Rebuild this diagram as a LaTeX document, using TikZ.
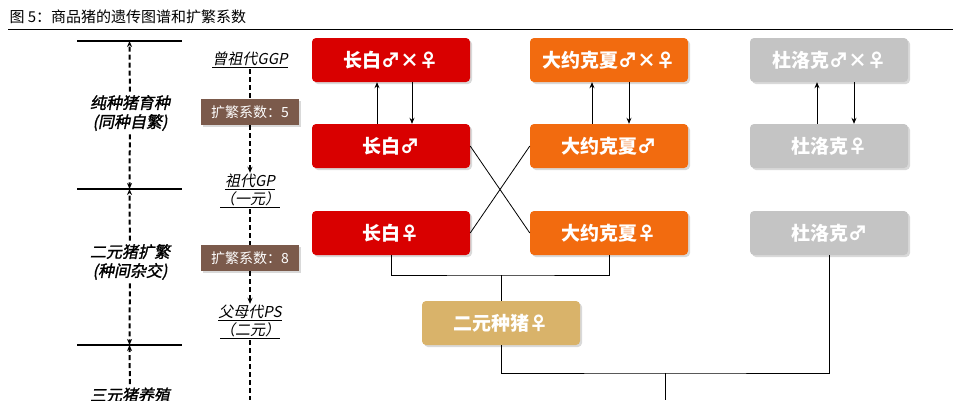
\documentclass[tikz,border=0pt]{standalone}
\usepackage{fontspec}
\setmainfont{Noto Sans CJK SC}
\newfontfamily\slantcjk[FakeSlant=0.2]{Noto Sans CJK SC}
\newfontfamily\slantboldcjk[FakeSlant=0.2,FakeBold=1.5]{Noto Sans CJK SC}
\usetikzlibrary{arrows.meta,shadows}
\definecolor{lbred}{HTML}{D90000}
\definecolor{yworange}{HTML}{F26B0F}
\definecolor{durgrey}{HTML}{C4C4C4}
\definecolor{twotan}{HTML}{D9B36A}
\definecolor{coefbrown}{HTML}{7B5A4B}
\tikzset{
	pig/.style={rounded corners=4pt,minimum width=158pt,minimum height=44pt,text=white,font=\bfseries\fontsize{19}{19}\selectfont,drop shadow={shadow xshift=2pt,shadow yshift=-2pt,opacity=0.3}},
	coef/.style={fill=coefbrown,text=white,minimum width=98pt,minimum height=26pt,font=\fontsize{14}{14}\selectfont,drop shadow={shadow xshift=2pt,shadow yshift=-2pt,opacity=0.3}},
	gen/.style={align=center,inner sep=1pt,font=\slantcjk\fontsize{15}{18}\selectfont},
	stage/.style={align=center,font=\slantboldcjk\fontsize{16}{19}\selectfont},
	link/.style={draw,line width=0.8pt},
	flow/.style={link,-{Stealth[length=6pt,width=5pt]}},
	dashline/.style={line width=2pt,dash pattern=on 5pt off 3pt}
}
\begin{document}
\begin{tikzpicture}[x=1pt,y=-1pt]
	\useasboundingbox (0,0) rectangle (953,400);
	\node[anchor=west,font=\fontsize{15}{15}\selectfont] (title) at (6,17) {图\ 5：商品猪的遗传图谱和扩繁系数};
	\draw[line width=0.8pt] (8,29) -- (953,29);
	% stages
	\foreach \y/\n in {41/ba,189/bb,345/bc}
		\draw[line width=2.5pt] (77,\y) -- (182,\y) coordinate[midway] (\n);
	\node[stage] (pure) at (130,113) {纯种猪育种\\(同种自繁)};
	\node[stage] (cross) at (130,262) {二元猪扩繁\\(种间杂交)};
	\node[stage,anchor=north] (three) at (130,384) {三元猪养殖};
	\draw[flow,dashline] (pure) -- (ba);
	\draw[flow,dashline] (pure) -- (bb);
	\draw[flow,dashline] (cross) -- (bb);
	\draw[flow,dashline] (cross) -- (bc);
	\draw[flow,dashline] (three) -- (bc);
	% generations
	\node[gen] (ggp) at (250,60) {\underline{曾祖代GGP}};
	\node[coef] (c5) at (250,112) {扩繁系数：5};
	\node[gen] (gp) at (250,191) {\underline{祖代GP}\\\underline{（一元）}};
	\node[coef] (c8) at (250,258) {扩繁系数：8};
	\node[gen] (ps) at (250,322) {\underline{父母代PS}\\\underline{（二元）}};
	\coordinate (psend) at (250,400);
	\draw[link,dashline] (ggp) -- (c5);
	\draw[flow,dashline] (c5) -- (gp);
	\draw[link,dashline] (gp) -- (c8);
	\draw[flow,dashline] (c8) -- (ps);
	\draw[link,dashline] (ps) -- (psend);
	% breeds
	\node[pig,fill=lbred] (lbx) at (391,60) {长白♂×♀};
	\node[pig,fill=lbred] (lbm) at (391,146) {长白♂};
	\node[pig,fill=lbred] (lbf) at (391,233) {长白♀};
	\node[pig,fill=yworange] (ywx) at (609,60) {大约克夏♂×♀};
	\node[pig,fill=yworange] (ywm) at (609,146) {大约克夏♂};
	\node[pig,fill=yworange] (ywf) at (609,233) {大约克夏♀};
	\node[pig,fill=durgrey] (dux) at (829,60) {杜洛克♂×♀};
	\node[pig,fill=durgrey] (duf) at (829,146) {杜洛克♀};
	\node[pig,fill=durgrey] (dum) at (829,233) {杜洛克♂};
	\node[pig,fill=twotan] (two) at (501,323) {二元种猪♀};
	\foreach \a/\b/\u/\d in {lbx/lbm/377/412,ywx/ywm/592/629,dux/duf/817/854}{
		\draw[flow,line width=0.8pt] (\b.north -| \u,0) -- (\a.south -| \u,0);
		\draw[flow,line width=0.8pt] (\a.south -| \d,0) -- (\b.north -| \d,0);
	}
	\draw[link] (lbm.east) -- (ywf.west);
	\draw[link] (lbf.east) -- (ywm.west);
	\coordinate (j1) at (501,275);
	\coordinate (j2) at (665,373);
	\draw[link] (lbf.south) |- (j1) -| (ywf.south);
	\draw[link] (j1) -- (two.north);
	\draw[link] (two.south) |- (j2) -| (dum.south);
	\draw[link] (j2) -- (665,400);
\end{tikzpicture}
\end{document}
